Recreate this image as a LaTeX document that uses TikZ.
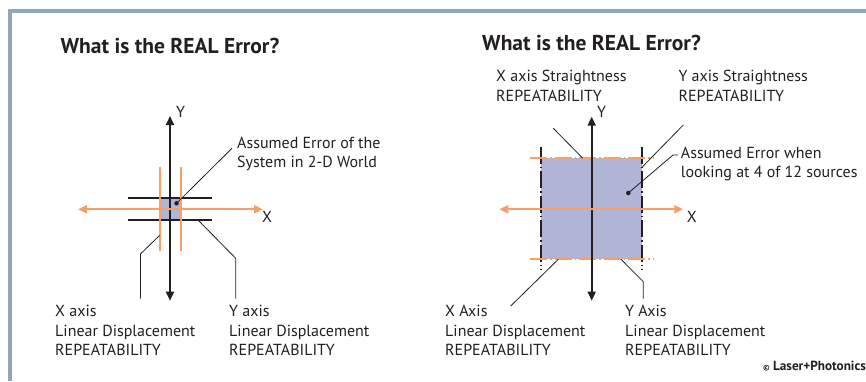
\documentclass[tikz,border=0pt]{standalone}
\usepackage{fontspec}
\setmainfont{PT Sans}
\usetikzlibrary{arrows.meta, positioning}
\definecolor{framegray}{RGB}{143,168,182}
\definecolor{axisorange}{RGB}{245,160,105}
\definecolor{errfill}{RGB}{176,180,214}
\definecolor{inkblack}{RGB}{35,31,32}

\begin{document}
\begin{tikzpicture}[x=1pt, y=-1pt,
  lbl/.style={anchor=base west, align=left, inner sep=0pt, text=inkblack, font=\fontsize{16}{19.3}\selectfont},
  ttl/.style={anchor=base, inner sep=0pt, text=inkblack, font=\fontsize{21.5}{24}\selectfont\bfseries},
  yaxis/.style={draw=inkblack, line width=1.8pt, {Triangle[length=9pt,width=8pt]}-{Triangle[length=9pt,width=8pt]}},
  xaxis/.style={draw=axisorange, line width=2pt, {Triangle[length=9pt,width=8pt]}-{Triangle[length=9pt,width=8pt]}},
  blim/.style={draw=inkblack, line width=1.8pt},
  olim/.style={draw=axisorange, line width=1.8pt},
  dashdot/.style={dash pattern=on 17pt off 3pt on 1.5pt off 3pt},
  lead/.style={draw=inkblack, line width=0.8pt},
  errdot/.style={circle, fill=inkblack, inner sep=0pt, minimum size=4.5pt}
]
  \useasboundingbox (0,0) rectangle (866,381);
  % frame
  \draw[framegray, line width=4pt] (10.3,381) -- (10.3,11) -- (866,11);

  % ---- left: 2-D world ----
  \node[ttl] (ttlL) at (170,53) {What is the REAL Error?};
  \fill[errfill] (160,198.3) rectangle (181,220);
  \coordinate (hbA1) at (128,198.3); \coordinate (hbA2) at (212,198.3);
  \coordinate (hbB1) at (128,220);   \coordinate (hbB2) at (212,220);
  \coordinate (voA1) at (160,167);   \coordinate (voA2) at (160,250.7);
  \coordinate (voB1) at (181,167);   \coordinate (voB2) at (181,250.7);
  \draw[blim] (hbA1) -- (hbA2);
  \draw[blim] (hbB1) -- (hbB2);
  \draw[olim] (voA1) -- (voA2);
  \draw[olim] (voB1) -- (voB2);
  \coordinate (ytopL) at (170,116); \coordinate (ybotL) at (170,300.7);
  \coordinate (xlftL) at (78,209.3); \coordinate (xrgtL) at (263,209.3);
  \draw[yaxis] (ybotL) -- (ytopL);
  \draw[xaxis] (xlftL) -- (xrgtL);
  \node[lbl] (ylblL) at (176,117) {Y};
  \node[lbl] (xlblL) at (262,222.7) {X};
  \node[errdot] (dotL) at (176.5,203.3) {};
  % multi-line labels sit on the baseline of their last line
  \node[lbl] (assumedL) at (237,167.3) {Assumed Error of the\\System in 2-D World};
  \coordinate (assumedLend) at (232,148.3);
  \draw[lead] (dotL.center) -- (assumedLend);
  \node[lbl] (xlinL) at (55,355.3) {X axis\\Linear Displacement\\REPEATABILITY};
  \node[lbl] (ylinL) at (229,355.3) {Y axis\\Linear Displacement\\REPEATABILITY};
  \coordinate (xlinLa) at (159.5,235.5); \coordinate (xlinLb) at (140.5,254);
  \coordinate (xlinLc) at (140.5,298.5);
  \draw[lead] (xlinLa) -- (xlinLb) -- (xlinLc);
  \coordinate (ylinLa) at (198,220); \coordinate (ylinLb) at (235.7,258.3);
  \coordinate (ylinLc) at (235.7,298.5);
  \draw[lead] (ylinLa) -- (ylinLb) -- (ylinLc);

  % ---- right: 4 of 12 sources ----
  \node[ttl] (ttlR) at (591.5,50) {What is the REAL Error?};
  \fill[errfill] (541,158.3) rectangle (641.7,259);
  \coordinate (vbA1) at (541,146.7);   \coordinate (vbA2) at (541,270);
  \coordinate (vbB1) at (641.7,146.7); \coordinate (vbB2) at (641.7,270);
  \coordinate (hoA1) at (530,158.3);   \coordinate (hoA2) at (653.3,158.3);
  \coordinate (hoB1) at (530,259);     \coordinate (hoB2) at (653.3,259);
  \draw[blim, dashdot] (vbA1) -- (vbA2);
  \draw[blim, dashdot] (vbB1) -- (vbB2);
  \draw[olim, dashdot] (hoA1) -- (hoA2);
  \draw[olim, dashdot] (hoB1) -- (hoB2);
  \coordinate (ytopR) at (591.7,116.7); \coordinate (ybotR) at (591.7,300.7);
  \coordinate (xlftR) at (499.3,209.3); \coordinate (xrgtR) at (683.3,209.3);
  \draw[yaxis] (ybotR) -- (ytopR);
  \draw[xaxis] (xlftR) -- (xrgtR);
  \node[lbl] (ylblR) at (597,117) {Y};
  \node[lbl] (xlblR) at (686.7,222.7) {X};
  \node[lbl] (xstrR) at (496,101) {X axis Straightness\\REPEATABILITY};
  \node[lbl] (ystrR) at (678.3,101) {Y axis Straightness\\REPEATABILITY};
  \coordinate (xstrRa) at (553.3,128.3); \coordinate (xstrRb) at (582.5,158);
  \draw[lead] (xstrRa) -- (xstrRb);
  \coordinate (ystrRa) at (683.3,125); \coordinate (ystrRb) at (642.5,166.7);
  \draw[lead] (ystrRa) -- (ystrRb);
  \node[errdot] (dotR) at (628.3,193) {};
  \node[lbl] (assumedR) at (680.7,177.6) {Assumed Error when\\looking at 4 of 12 sources};
  \coordinate (assumedRa) at (673,155); \coordinate (assumedRb) at (678,155);
  \draw[lead] (dotR.center) -- (assumedRa) -- (assumedRb);
  \node[lbl] (xlinR) at (445,355.3) {X Axis\\Linear Displacement\\REPEATABILITY};
  \node[lbl] (ylinR) at (625,355.3) {Y Axis\\Linear Displacement\\REPEATABILITY};
  \coordinate (xlinRa) at (558.3,259.3); \coordinate (xlinRb) at (510.7,306);
  \draw[lead] (xlinRa) -- (xlinRb);
  \coordinate (ylinRa) at (621,259.3); \coordinate (ylinRb) at (643.3,281.7);
  \coordinate (ylinRc) at (643.3,298.5);
  \draw[lead] (ylinRa) -- (ylinRb) -- (ylinRc);

  \node[anchor=base east, inner sep=0pt, text=inkblack, font=\fontsize{13.2}{15}\selectfont\bfseries] (credit) at (866,370.7) {{\fontsize{8}{9}\selectfont\textcopyright}\ Laser+Photonics};
\end{tikzpicture}
\end{document}
